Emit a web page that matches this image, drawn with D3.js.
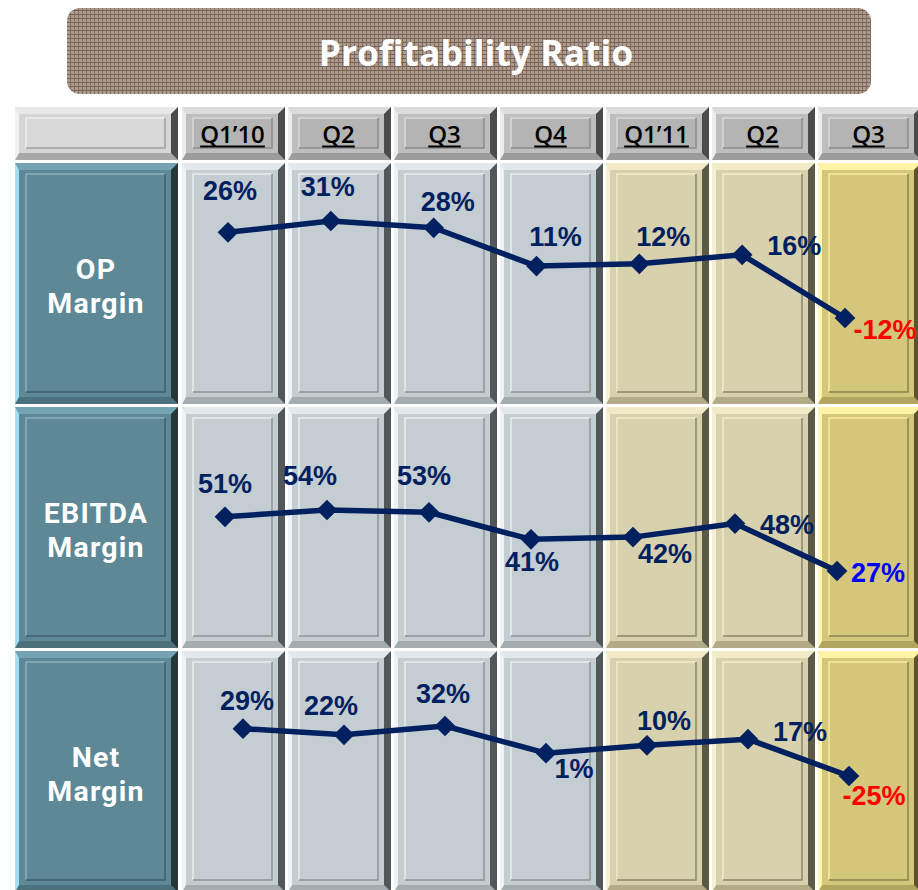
<!DOCTYPE html>
<html>
<head>
<meta charset="utf-8">
<script src="https://cdn.jsdelivr.net/npm/d3@7"></script>
<style>
  html, body { margin: 0; padding: 0; background: #fff; overflow: hidden; }
</style>
</head>
<body>
<div id="chart"></div>
<script>
// ---- data ----
var chartTitle = "Profitability Ratio";
var quarters = ["Q1’10", "Q2", "Q3", "Q4", "Q1’11", "Q2", "Q3"];
var quarterPeriod = ["y2010", "y2010", "y2010", "y2010", "y2011", "y2011", "latest"];
var metricLines = [["OP", "Margin"], ["EBITDA", "Margin"], ["Net", "Margin"]];
var opMargin = [26, 31, 28, 11, 12, 16, -12];
var ebitdaMargin = [51, 54, 53, 41, 42, 48, 27];
var netMargin = [29, 22, 32, 1, 10, 17, -25];
var series = [opMargin, ebitdaMargin, netMargin];

(function () {
  "use strict";

  var W = 918, H = 890;
  var NAVY = "#002060";

  // Each row holds its own little line chart; pixel spans per row.
  var rowPlot = [
    { x: [228, 845], y: [318, 221] },
    { x: [225, 837], y: [571, 510] },
    { x: [243, 849], y: [776, 726] }
  ];
  // label offset from its point: [dx to text centre, dy to baseline]
  var labelOffset = [
    [[2, -32], [-3, -25], [14, -17], [19, -20], [24, -18], [52, 0], [40, 21]],
    [[0, -24], [-17, -25], [-5, -27], [1, 32], [32, 26], [52, 10], [41, 11]],
    [[4, -19], [-13, -20], [-2, -23], [28, 25], [17, -15], [52, 2], [25, 29]]
  ];
  var lastLabelColor = ["#ff0000", "#0000ff", "#ff0000"];

  // Bevelled cell palettes.
  var PAL = {
    head:   { face: "#bebebe", top: "#dcdcdc", left: "#ececec", right: "#4b4b4b", bottom: "#9c9c9c", plate: "#b4b4b4", inLight: "#d9d9d9", inDark: "#8a8a8a" },
    corner: { face: "#d6d6d6", top: "#e8e8e8", left: "#f2f2f2", right: "#4b4b4b", bottom: "#a8a8a8", plate: "#d9d9d9", inLight: "#eeeeee", inDark: "#a0a0a0" },
    label:  { face: "#5e8895", top: "#74a4b3", left: "#9fe0f2", right: "#26373c", bottom: "#4c717c", plate: "#5e8895", inLight: "#8ab3bf", inDark: "#3f5f69" },
    y2010:  { face: "#c4cdd1", top: "#e3e9eb", left: "#eef3f5", right: "#52585a", bottom: "#a3acaf", plate: "#c4cdd1", inLight: "#e8eef0", inDark: "#8b9497" },
    y2011:  { face: "#d8d1ad", top: "#f1eac6", left: "#f6f0d2", right: "#5c5946", bottom: "#b3ab88", plate: "#d8d1ad", inLight: "#f2ebc8", inDark: "#8c876c" },
    latest: { face: "#d4c77b", top: "#fff3a6", left: "#fff8b4", right: "#5b532f", bottom: "#b1a560", plate: "#d4c77b", inLight: "#f8ec9e", inDark: "#8c8250" }
  };

  var svg = d3.select("#chart").append("svg")
    .attr("width", W).attr("height", H)
    .style("display", "block");

  // woven texture for title banner
  var defs = svg.append("defs");
  var pat = defs.append("pattern")
    .attr("id", "weave").attr("patternUnits", "userSpaceOnUse")
    .attr("width", 4).attr("height", 4);
  pat.append("rect").attr("width", 4).attr("height", 4).attr("fill", "#ad9b90");
  pat.append("rect").attr("x", 0).attr("y", 2).attr("width", 4).attr("height", 1).attr("fill", "#76604f");
  pat.append("rect").attr("x", 2).attr("y", 0).attr("width", 1).attr("height", 4).attr("fill", "#806a5d");

  svg.append("rect")
    .attr("x", 67).attr("y", 8).attr("width", 804).attr("height", 86)
    .attr("rx", 13).attr("ry", 13)
    .attr("fill", "url(#weave)");

  svg.append("text")
    .attr("x", 476).attr("y", 66)
    .attr("text-anchor", "middle")
    .attr("fill", "#ffffff")
    .style("font-family", "'Open Sans', 'Noto Sans', sans-serif")
    .style("font-weight", 700)
    .style("font-size", "35.5px")
    .text(chartTitle);

  // grid scales
  var col = d3.scaleBand().domain(d3.range(quarters.length))
    .range([182, 182 + quarters.length * 106 - 3]).paddingInner(3 / 106);
  var row = d3.scaleBand().domain(d3.range(series.length))
    .range([163, 163 + series.length * 244 - 3]).paddingInner(3 / 244);
  var labelX = 15, labelW = 163, headY = 107, headH = 53;

  function poly(g, pts, fill) {
    g.append("polygon").attr("points", pts.map(function (p) { return p.join(","); }).join(" ")).attr("fill", fill);
  }

  function bevel(g, x, y, w, h, p) {
    var L = 4, R = 7, T = 7, B = 7;
    g.append("rect").attr("x", x).attr("y", y).attr("width", w).attr("height", h).attr("fill", p.face);
    poly(g, [[x, y], [x + w, y], [x + w - R, y + T], [x + L, y + T]], p.top);
    poly(g, [[x, y + h], [x + w, y + h], [x + w - R, y + h - B], [x + L, y + h - B]], p.bottom);
    poly(g, [[x, y], [x + L, y + T], [x + L, y + h - B], [x, y + h]], p.left);
    poly(g, [[x + w, y], [x + w - R, y + T], [x + w - R, y + h - B], [x + w, y + h]], p.right);
    var ix = x + 11, iy = y + 11, ix2 = x + w - 13, iy2 = y + h - 12;
    g.append("rect").attr("x", ix).attr("y", iy).attr("width", ix2 - ix).attr("height", iy2 - iy).attr("fill", p.plate);
    g.append("path").attr("d", "M" + ix + "," + iy2 + "V" + iy + "H" + ix2)
      .attr("fill", "none").attr("stroke", p.inLight).attr("stroke-width", 1.5);
    g.append("path").attr("d", "M" + ix2 + "," + iy + "V" + iy2 + "H" + ix)
      .attr("fill", "none").attr("stroke", p.inDark).attr("stroke-width", 1.5);
  }

  var cells = svg.append("g").attr("class", "cells");

  // header row
  bevel(cells, labelX, headY, labelW, headH, PAL.corner);
  quarters.forEach(function (q, i) {
    bevel(cells, col(i), headY, col.bandwidth(), headH, PAL.head);
  });

  // body rows
  series.forEach(function (s, r) {
    bevel(cells, labelX, row(r), labelW, row.bandwidth(), PAL.label);
    quarters.forEach(function (q, i) {
      bevel(cells, col(i), row(r), col.bandwidth(), row.bandwidth(), PAL[quarterPeriod[i]]);
    });
  });

  // header labels (underlined)
  var heads = svg.append("g").attr("class", "heads");
  quarters.forEach(function (q, i) {
    var cx = col(i) + col.bandwidth() / 2 - 1;
    var t = heads.append("text")
      .attr("x", cx).attr("y", 143)
      .attr("text-anchor", "middle")
      .attr("fill", "#000")
      .style("font-family", "'Open Sans', 'Noto Sans', sans-serif")
      .style("font-weight", 600)
      .style("font-size", "24px")
      .text(q);
    var len = t.node().getComputedTextLength();
    heads.append("line")
      .attr("x1", cx - len / 2).attr("x2", cx + len / 2)
      .attr("y1", 146.5).attr("y2", 146.5)
      .attr("stroke", "#000").attr("stroke-width", 2);
  });

  // row labels: one text per line, compact font so the line boxes don't collide
  metricLines.forEach(function (lines, r) {
    var cy = row(r) + row.bandwidth() / 2;
    lines.forEach(function (ln, k) {
      svg.append("text")
        .attr("x", 96).attr("y", cy - 5 + k * 34)
        .attr("text-anchor", "middle")
        .attr("fill", "#ffffff")
        .style("font-family", "Roboto, 'Noto Sans', sans-serif")
        .style("font-weight", 700)
        .style("font-size", "28.5px")
        .style("letter-spacing", "1.2px")
        .text(ln);
    });
  });

  // line charts
  var diamond = d3.symbol().type(d3.symbolSquare).size(215);
  series.forEach(function (s, r) {
    var x = d3.scalePoint().domain(d3.range(s.length)).range(rowPlot[r].x);
    var y = d3.scaleLinear().domain(d3.extent(s)).range(rowPlot[r].y);
    var g = svg.append("g").attr("class", "series");

    g.append("path")
      .datum(s)
      .attr("fill", "none")
      .attr("stroke", NAVY)
      .attr("stroke-width", 5.5)
      .attr("stroke-linejoin", "round")
      .attr("d", d3.line().x(function (d, i) { return x(i); }).y(function (d) { return y(d); }));

    g.selectAll("path.pt")
      .data(s)
      .join("path")
      .attr("class", "pt")
      .attr("d", diamond)
      .attr("fill", NAVY)
      .attr("transform", function (d, i) { return "translate(" + x(i) + "," + y(d) + ") rotate(45)"; });

    g.selectAll("text")
      .data(s)
      .join("text")
      .attr("x", function (d, i) { return x(i) + labelOffset[r][i][0]; })
      .attr("y", function (d, i) { return y(d) + labelOffset[r][i][1]; })
      .attr("text-anchor", "middle")
      .attr("fill", function (d, i) { return i === s.length - 1 ? lastLabelColor[r] : NAVY; })
      .style("font-family", "'Liberation Sans', Arial, sans-serif")
      .style("font-weight", 700)
      .style("font-size", "27px")
      .text(function (d) { return d + "%"; });
  });
})();
</script>
</body>
</html>
